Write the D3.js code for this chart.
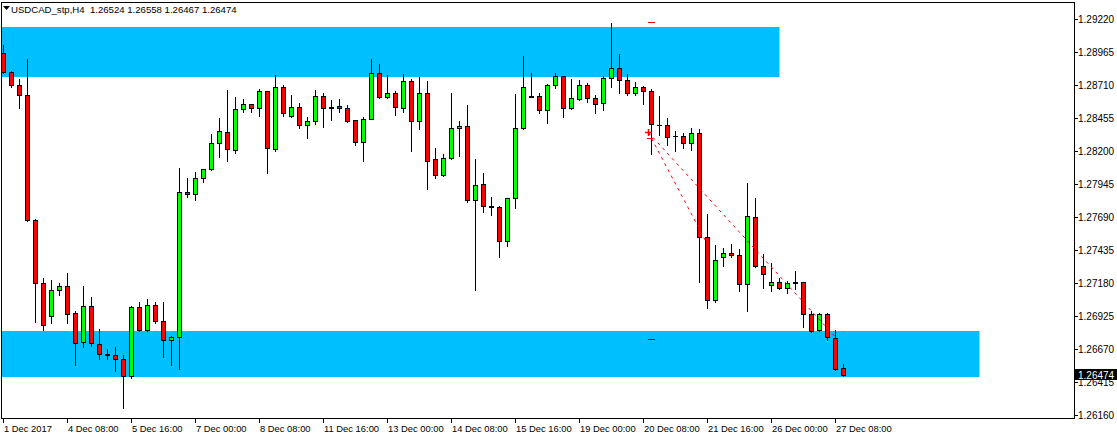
<!DOCTYPE html>
<html><head><meta charset="utf-8">
<script src="https://cdn.jsdelivr.net/npm/d3@7"></script>
<style>
html,body{margin:0;padding:0;background:#fff;overflow:hidden;}
svg{display:block;font-family:"Liberation Sans",Arial,sans-serif;}
</style>
</head><body>
<svg id="chart" width="1117" height="439"></svg>
<script>
// ---------- DATA ----------
const symbolTitle = "USDCAD_stp,H4";
const lastOHLC = ["1.26524", "1.26558", "1.26467", "1.26474"];

const tradingDays = ["1 Dec","4 Dec","5 Dec","6 Dec","7 Dec","8 Dec","11 Dec","12 Dec","13 Dec","14 Dec","15 Dec",
  "18 Dec","19 Dec","20 Dec","21 Dec","22 Dec","26 Dec","27 Dec"];
const barHours = ["00:00","04:00","08:00","12:00","16:00","20:00"];

const openP = [1.28960,1.28810,1.28708,1.28631,1.27666,1.27184,1.26925,1.27125,1.27156,1.26948,
1.26724,1.27002,1.26708,1.26630,1.26623,1.26593,1.26466,1.26994,1.26816,1.27010,
1.26886,1.26739,1.26762,1.27882,1.27867,1.27990,1.28060,1.28260,1.28345,1.28206,
1.28523,1.28561,1.28531,1.28662,1.28214,1.28693,1.28469,1.28538,1.28399,1.28430,
1.28623,1.28533,1.28546,1.28531,1.28438,1.28268,1.28446,1.28801,1.28615,1.28646,
1.28531,1.28739,1.28430,1.28646,1.28137,1.28013,1.28145,1.28376,1.28392,1.27820,
1.27944,1.27775,1.27772,1.27504,1.27836,1.28376,1.28622,1.28623,1.28515,1.28708,
1.28778,1.28531,1.28600,1.28708,1.28608,1.28569,1.28762,1.28839,1.28747,1.28646,
1.28693,1.28662,1.28401,1.28399,1.28313,1.28314,1.28260,1.28338,1.27535,1.27048,
1.27380,1.27411,1.27396,1.27172,1.27689,1.27311,1.27164,1.27187,1.27141,1.27182,
1.27187,1.26940,1.26816,1.26940,1.26755,1.26524];
const highP = [1.29019,1.28818,1.28757,1.28911,1.27674,1.27220,1.27205,1.27184,1.27257,1.26966,
1.27159,1.27074,1.26824,1.26670,1.26685,1.26623,1.27004,1.27033,1.27056,1.27033,
1.27033,1.26770,1.28067,1.27990,1.28036,1.28062,1.28330,1.28453,1.28670,1.28615,
1.28600,1.28565,1.28677,1.28665,1.28785,1.28708,1.28631,1.28569,1.28461,1.28670,
1.28646,1.28592,1.28600,1.28554,1.28440,1.28461,1.28909,1.28870,1.28785,1.28662,
1.28793,1.28754,1.28770,1.28742,1.28222,1.28175,1.28646,1.28430,1.28554,1.28137,
1.28029,1.27843,1.27776,1.27838,1.28639,1.28932,1.28801,1.28646,1.28716,1.28801,
1.28780,1.28754,1.28747,1.28724,1.28631,1.28778,1.29187,1.28948,1.28793,1.28731,
1.28700,1.28677,1.28623,1.28453,1.28353,1.28338,1.28376,1.28368,1.27712,1.27473,
1.27450,1.27481,1.27442,1.27952,1.27836,1.27403,1.27334,1.27218,1.27195,1.27272,
1.27189,1.26963,1.26948,1.26948,1.26816,1.26558];
const lowP = [1.28805,1.28697,1.28535,1.27663,1.26883,1.26819,1.26875,1.27089,1.26875,1.26551,
1.26690,1.26698,1.26593,1.26597,1.26505,1.26219,1.26451,1.26810,1.26810,1.26871,
1.26613,1.26551,1.26520,1.27843,1.27820,1.27959,1.28052,1.28152,1.28121,1.28183,
1.28500,1.28500,1.28469,1.28029,1.28199,1.28469,1.28465,1.28376,1.28299,1.28407,
1.28384,1.28438,1.28500,1.28422,1.28245,1.28121,1.28444,1.28608,1.28608,1.28477,
1.28500,1.28199,1.28368,1.27905,1.27990,1.28006,1.28140,1.28160,1.27805,1.27125,
1.27728,1.27704,1.27380,1.27465,1.27758,1.28372,1.28615,1.28492,1.28415,1.28685,
1.28461,1.28523,1.28592,1.28577,1.28492,1.28515,1.28693,1.28646,1.28631,1.28631,
1.28561,1.28175,1.28322,1.28245,1.28199,1.28222,1.28206,1.27187,1.26986,1.27033,
1.27311,1.27380,1.27118,1.26963,1.27303,1.27141,1.27118,1.27133,1.27102,1.27133,
1.26840,1.26801,1.26809,1.26739,1.26512,1.26467];
const closeP = [1.28808,1.28708,1.28631,1.27666,1.27179,1.26855,1.27125,1.27156,1.26940,1.26716,
1.27002,1.26716,1.26631,1.26627,1.26593,1.26466,1.26994,1.26816,1.27010,1.26886,
1.26739,1.26762,1.27882,1.27867,1.27990,1.28060,1.28260,1.28353,1.28214,1.28523,
1.28561,1.28531,1.28662,1.28222,1.28693,1.28492,1.28538,1.28399,1.28430,1.28623,
1.28531,1.28537,1.28531,1.28430,1.28268,1.28446,1.28801,1.28615,1.28646,1.28538,
1.28739,1.28430,1.28646,1.28121,1.28013,1.28145,1.28376,1.28392,1.27820,1.27936,
1.27774,1.27772,1.27504,1.27836,1.28376,1.28693,1.28618,1.28515,1.28708,1.28778,
1.28531,1.28608,1.28708,1.28608,1.28561,1.28762,1.28839,1.28747,1.28646,1.28693,
1.28662,1.28407,1.28398,1.28307,1.28316,1.28260,1.28338,1.27535,1.27048,1.27357,
1.27411,1.27396,1.27172,1.27697,1.27311,1.27249,1.27187,1.27141,1.27179,1.27186,
1.26940,1.26809,1.26940,1.26762,1.26520,1.26474];

const priceTicks = [1.29220,1.28965,1.28710,1.28455,1.28200,1.27945,1.27690,1.27435,1.27180,1.26925,1.26670,1.26415,1.26160];
const timeTickLabels = ["1 Dec 2017","4 Dec 08:00","5 Dec 16:00","7 Dec 00:00","8 Dec 08:00","11 Dec 16:00",
  "13 Dec 00:00","14 Dec 08:00","15 Dec 16:00","19 Dec 00:00","20 Dec 08:00","21 Dec 16:00","26 Dec 00:00","27 Dec 08:00"];
const timeTickBars = [0,8,16,24,32,40,48,56,64,72,80,88,96,104];

// zones (bar index range, price range)
const zoneFromBar = [-10, -10];
const zoneToBar = [97, 122];
const zoneHigh = [1.29161, 1.26811];
const zoneLow = [1.28775, 1.26458];

// dashed trend lines: start/end bar & price
const trendStartBar = [80.6, 80.6];
const trendStartPrice = [1.28345, 1.28345];
const trendEndBar = [87.9, 104.3];
const trendEndPrice = [1.27491, 1.26742];

// build bar time categories
const barTimes = [];
tradingDays.forEach(d => barHours.forEach(h => barTimes.push(d + " " + h)));
const categories = barTimes.slice(0, openP.length);

// ---------- DRAW ----------
const W = 1117, H = 439;
const plotLeft = 1, plotRight = 1074, plotTop = 2, plotBottom = 418;
const svg = d3.select("#chart");

const x = d3.scaleLinear().domain([0, 105]).range([3.5, 843.5]);
const y = d3.scaleLinear().domain([1.26160, 1.29220]).range([415.3, 19]);

svg.append("clipPath").attr("id","plotclip").append("rect")
  .attr("x", plotLeft).attr("y", plotTop).attr("width", plotRight - plotLeft).attr("height", plotBottom - plotTop);

const plot = svg.append("g").attr("clip-path","url(#plotclip)");

// zones
plot.selectAll("rect.zone").data(zoneHigh.map((h,i)=>({from:zoneFromBar[i],to:zoneToBar[i],hi:h,lo:zoneLow[i]})))
  .join("rect").attr("class","zone")
  .attr("x", d => x(d.from)).attr("width", d => x(d.to) - x(d.from))
  .attr("y", d => Math.round(y(d.hi))).attr("height", d => Math.round(y(d.lo)) - Math.round(y(d.hi)))
  .attr("fill", "#00BFFF");

// candles
const candles = categories.map((t,i)=>({t, i, o:openP[i], h:highP[i], l:lowP[i], c:closeP[i]}));
const cg = plot.append("g");
candles.forEach(d => {
  const cx = Math.floor(x(d.i)) + 0.5;
  const yh = Math.round(y(d.h)), yl = Math.round(y(d.l));
  const yt = Math.round(y(Math.max(d.o,d.c))), yb = Math.round(y(Math.min(d.o,d.c)));
  cg.append("line").attr("x1",cx).attr("x2",cx).attr("y1",yh).attr("y2",yl+1)
    .attr("stroke","#000").attr("stroke-width",1);
  if (yb - yt < 1) {
    cg.append("line").attr("x1",cx-2.5).attr("x2",cx+2.5).attr("y1",yt+0.5).attr("y2",yt+0.5)
      .attr("stroke","#000").attr("stroke-width",1);
  } else {
    cg.append("rect").attr("x",cx-2).attr("width",4).attr("y",yt+0.5).attr("height",yb-yt)
      .attr("fill", d.c >= d.o ? "#00FF00" : "#FF0000").attr("stroke","#000").attr("stroke-width",1);
  }
});

// trend lines
plot.selectAll("line.trend").data(trendStartBar.map((b,i)=>({b0:b,p0:trendStartPrice[i],b1:trendEndBar[i],p1:trendEndPrice[i]})))
  .join("line").attr("class","trend")
  .attr("x1", d=>x(d.b0)).attr("y1", d=>y(d.p0)).attr("x2", d=>x(d.b1)).attr("y2", d=>y(d.p1))
  .attr("stroke","#FF0000").attr("stroke-width",1).attr("stroke-dasharray","3,4");

// small markers at bar 81
const mx = Math.floor(x(81));
plot.append("line").attr("x1",mx-3).attr("x2",mx+4).attr("y1",Math.round(y(1.29195))+0.5).attr("y2",Math.round(y(1.29195))+0.5).attr("stroke","#FF0000");
plot.append("line").attr("x1",mx-3).attr("x2",mx+4).attr("y1",Math.round(y(1.26747))+0.5).attr("y2",Math.round(y(1.26747))+0.5).attr("stroke","#0000FF");
// anchor cross
const ax = Math.round(x(trendStartBar[0])), ay = Math.round(y(trendStartPrice[0]));
plot.append("path").attr("d",`M${ax-3},${ay+0.5}H${ax+4}M${ax+0.5},${ay-3}V${ay+4}`).attr("stroke","#FF0000").attr("stroke-width",1.5);
plot.append("line").attr("x1",ax-1).attr("x2",ax+5).attr("y1",ay+6.5).attr("y2",ay+6.5).attr("stroke","#FF0000");

// frame
svg.append("rect").attr("x",plotLeft+0.5).attr("y",plotTop+0.5).attr("width",plotRight-plotLeft).attr("height",plotBottom-plotTop)
  .attr("fill","none").attr("stroke","#000").attr("stroke-width",1);

// y axis
const yAxis = svg.append("g");
priceTicks.forEach(p => {
  const yy = Math.round(y(p)) + 0.5;
  yAxis.append("line").attr("x1",plotRight+0.5).attr("x2",plotRight+4).attr("y1",yy).attr("y2",yy).attr("stroke","#000");
  yAxis.append("text").attr("x",plotRight+4).attr("y",yy+3.5).attr("font-size",10).attr("fill","#000").text(p.toFixed(5));
});
// current price tag
const lastY = y(closeP[closeP.length-1]);
yAxis.append("rect").attr("x",plotRight+1).attr("y",Math.round(lastY)-6).attr("width",W-plotRight-1).attr("height",11).attr("fill","#000");
yAxis.append("text").attr("x",plotRight+4).attr("y",Math.round(lastY)+3.5).attr("font-size",10).attr("fill","#fff").text(lastOHLC[3]);

// x axis
const xAxis = svg.append("g");
timeTickBars.forEach((b,k) => {
  const xx = Math.floor(x(b)) + 0.5;
  xAxis.append("line").attr("x1",xx).attr("x2",xx).attr("y1",plotBottom).attr("y2",plotBottom+5).attr("stroke","#000");
  xAxis.append("text").attr("x",xx+0.5).attr("y",432).attr("font-size",9.4).attr("fill","#000").text(timeTickLabels[k]);
});

// title
svg.append("path").attr("d","M3,6H10L6.5,10Z").attr("fill","#000");
svg.append("text").attr("x",11).attr("y",13).attr("font-size",9.6).attr("fill","#000")
  .text(symbolTitle + "  " + lastOHLC.join(" ")).style("white-space","pre");
</script>
</body></html>
